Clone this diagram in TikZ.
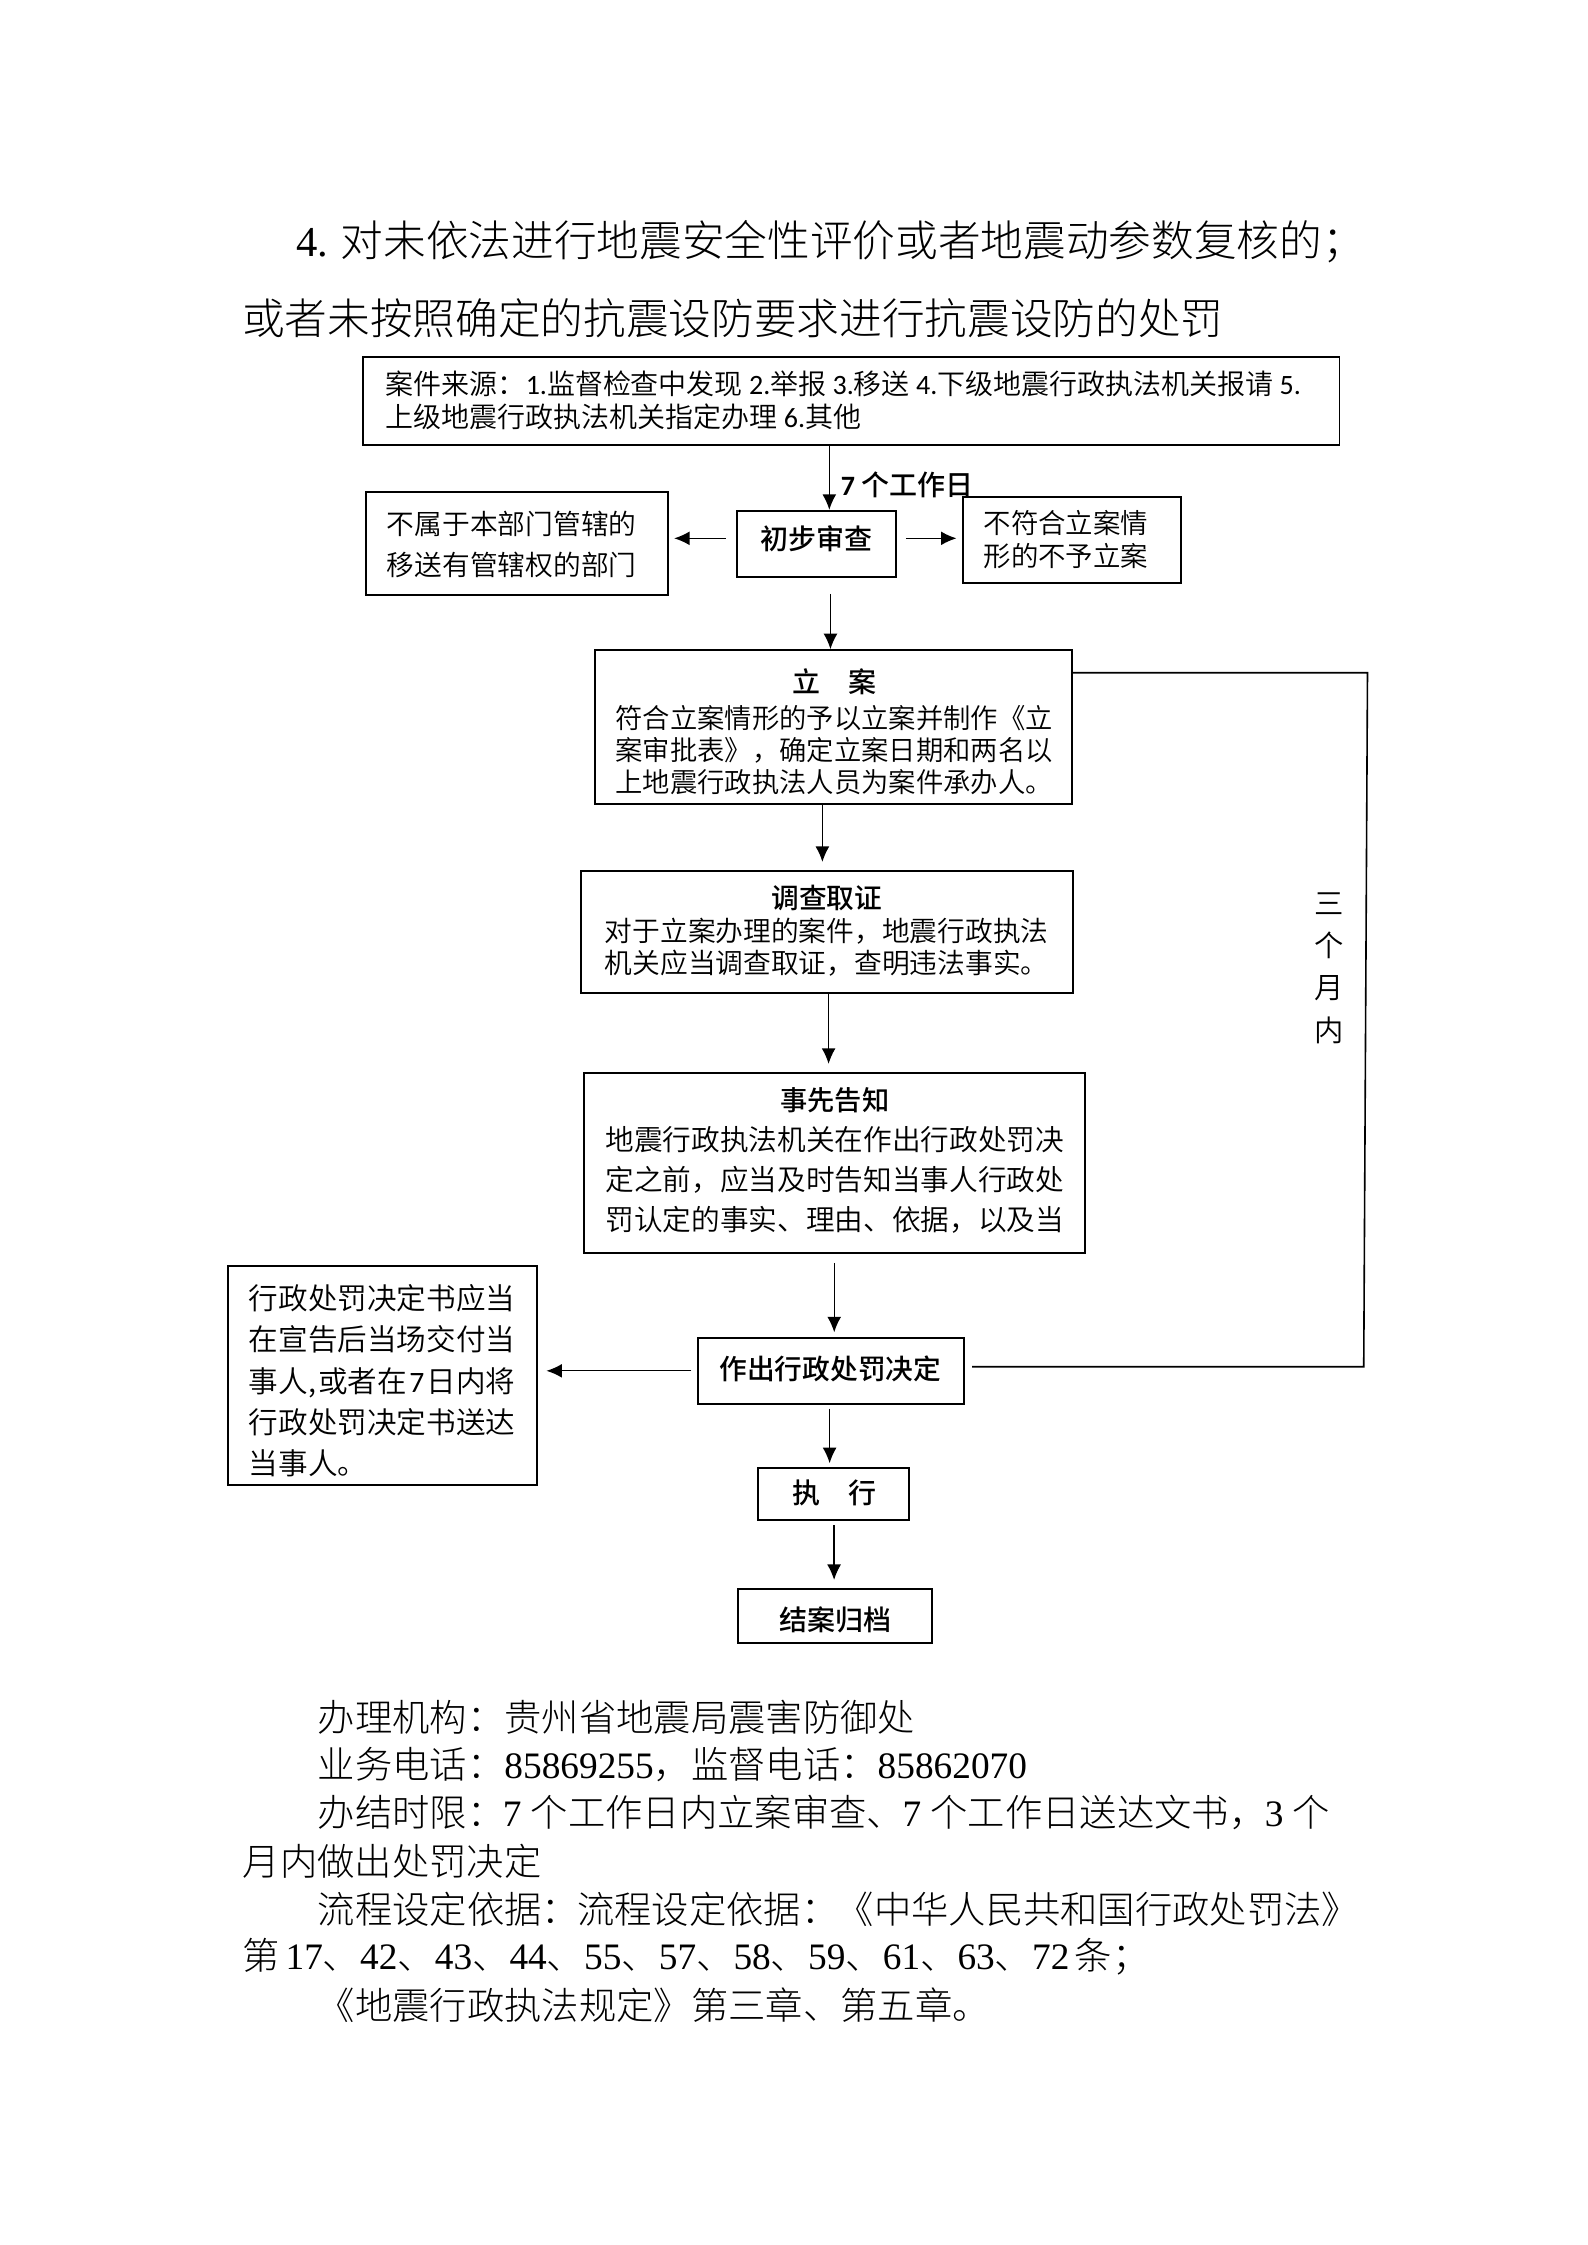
\documentclass[tikz,border=0pt]{standalone}
\usepackage{fontspec}
\setmainfont{Noto Sans CJK SC}
\newfontfamily\latinf{Carlito}
\newfontfamily\lsf{Liberation Serif}
\IfFontExistsTF{Noto Sans CJK SC Light}{\newfontfamily\thin{Noto Sans CJK SC Light}}{\newfontfamily\thin{Noto Sans CJK SC}}
\IfFontExistsTF{Noto Sans CJK SC DemiLight}{\newfontfamily\demi{Noto Sans CJK SC DemiLight}}{\newfontfamily\demi{Noto Sans CJK SC}}
\IfFontExistsTF{Noto Sans CJK SC Medium}{\newfontfamily\med{Noto Sans CJK SC Medium}}{\newcommand\med{\normalfont\bfseries}}
\usetikzlibrary{arrows.meta,calc}
\begin{document}
\begin{tikzpicture}[x=0.5411pt,y=-0.5411pt,
  box/.style={draw, line width=0.7pt, inner sep=0pt},
  txt/.style={inner sep=0pt, align=center, font=\demi\fontsize{10.5}{12}\selectfont},
  btxt/.style={inner sep=0pt, align=center, font=\med\fontsize{10.5}{12}\selectfont},
  arr/.style={line width=0.5pt, -{Latex[length=5.8pt,width=5.2pt]}},
  fb/.style={line width=0.6pt},
  ttl/.style={anchor=west, inner sep=0pt, font=\thin\fontsize{16}{16}\selectfont},
  body/.style={anchor=west, inner sep=0pt, font=\thin\fontsize{14}{14}\selectfont}]
\fill[white] (0,0) rectangle (1100,1556);
\useasboundingbox (0,0) rectangle (1100,1556);

% title
\node[ttl] (t1) at (205,167.5) {{\lsf 4.} 对未依法进行地震安全性评价或者地震动参数复核的；};
\node[ttl] (t2) at (167.5,220.5) {或者未按照确定的抗震设防要求进行抗震设防的处罚};

% boxes and their texts
\node[box, minimum width=366.1pt, minimum height=33.2pt] (src) at (590.1,277.85) {};
\node[txt, anchor=west, align=left, font=\demi\fontsize{10.5}{12.2}\selectfont] (srcT) at (267,277.55)
  {案件来源：{\latinf 1.}监督检查中发现 {\latinf 2.}举报 {\latinf 3.}移送 {\latinf 4.}下级地震行政执法机关报请 {\latinf 5.}\\上级地震行政执法机关指定办理 {\latinf 6.}其他};

\node[box, minimum width=59.6pt, minimum height=25pt] (init) at (565.65,377.1) {};
\node[btxt] (initT) at (565.7,373.1) {初步审查};

\node[box, minimum width=113.5pt, minimum height=38.7pt] (left1) at (358.4,376.6) {};
\node[txt, font=\demi\fontsize{10.4}{15.26}\selectfont] (left1T) at (354.65,377.5) {不属于本部门管辖的\\移送有管辖权的部门};

\node[box, minimum width=81.9pt, minimum height=32.2pt] (right1) at (742.95,374.1) {};
\node[txt, align=left, font=\demi\fontsize{10.3}{12.3}\selectfont] (right1T) at (738.8,374.05) {不符合立案情\\形的不予立案};

\node[btxt, anchor=west] (d7) at (582.5,336) {{\latinf\bfseries 7} 个工作日};

\node[box, minimum width=179.1pt, minimum height=57.6pt] (lian) at (577.7,503.8) {};
\node[txt, font=\demi\fontsize{10.25}{12}\selectfont] (lianT) at (578.2,507.15) {{\med\fontsize{10.5}{12}\selectfont 立　案}\\[1.5pt]符合立案情形的予以立案并制作《立\\案审批表》，确定立案日期和两名以\\上地震行政执法人员为案件承办人。};

\node[box, minimum width=184.6pt, minimum height=45.5pt] (diaocha) at (573.25,646) {};
\node[txt, font=\demi\fontsize{10.4}{12.2}\selectfont] (diaochaT) at (573,645.15) {{\med 调查取证}\\对于立案办理的案件，地震行政执法\\机关应当调查取证，查明违法事实。};

\node[box, minimum width=187.9pt, minimum height=67.5pt] (gaozhi) at (578.65,805.9) {};
\node[txt, font=\demi\fontsize{10.75}{15}\selectfont] (gaozhiT) at (578.65,804.05) {{\med\fontsize{10.2}{15}\selectfont 事先告知}\\地震行政执法机关在作出行政处罚决\\定之前，应当及时告知当事人行政处\\罚认定的事实、理由、依据，以及当};

\node[box, minimum width=99.9pt, minimum height=24.9pt] (jueding) at (576.05,950.2) {};
\node[btxt, font=\med\fontsize{10.4}{12}\selectfont] (juedingT) at (575.5,948.5) {作出行政处罚决定};

\node[box, minimum width=116.1pt, minimum height=82.2pt] (songda) at (265.1,953.3) {};
\node[txt, anchor=west, align=left, font=\demi\fontsize{11.1}{15.5}\selectfont] (songdaT) at (172.2,957.1) {行政处罚决定书应当\\在宣告后当场交付当\\\hbox to 99.9pt{事人,\hss 或者在\hss{\latinf 7}\hss 日内将}\\行政处罚决定书送达\\当事人。};

\node[box, minimum width=56.9pt, minimum height=19.6pt] (zhixing) at (577.65,1035.45) {};
\node[btxt] (zhixingT) at (578.4,1035) {执　行};

\node[box, minimum width=72.7pt, minimum height=20.1pt] (guidang) at (578.95,1120) {};
\node[btxt] (guidangT) at (579.2,1122.9) {结案归档};

\node[txt, font=\demi\fontsize{11}{15.85}\selectfont] (sgy) at (921.5,671) {三\\个\\月\\内};

% connectors
\coordinate (xa) at (574.8,0);
\draw[arr] (src.south -| xa) -- (init.north -| xa);
\coordinate (ya) at (0,373.1);
\draw[arr, shorten <=3.7pt, shorten >=1.8pt] (init.west |- ya) -- (left1.east |- ya);
\draw[arr, shorten <=3.5pt, shorten >=2pt] (init.east |- ya) -- (right1.west |- ya);
\coordinate (xe) at (575.6,0);
\draw[arr, shorten <=5.8pt] (init.south -| xe) -- (lian.north -| xe);
\coordinate (xb) at (570,0);
\draw[arr, shorten >=3.2pt] (lian.south -| xb) -- (diaocha.north -| xb);
\coordinate (xc) at (574.3,0);
\draw[arr, shorten >=3pt] (diaocha.south -| xc) -- (gaozhi.north -| xc);
\coordinate (xf) at (578.2,0);
\draw[arr, shorten <=3.4pt, shorten >=1.7pt] (gaozhi.south -| xf) -- (jueding.north -| xf);
\coordinate (yb) at (0,950.1);
\draw[arr, shorten <=2.1pt, shorten >=3.1pt] (jueding.west |- yb) -- (songda.east |- yb);
\coordinate (xd) at (575,0);
\draw[arr, shorten <=1.35pt, shorten >=1.4pt] (jueding.south -| xd) -- (zhixing.north -| xd);
\coordinate (xg) at (578.1,0);
\draw[arr, shorten <=1.5pt, shorten >=3.1pt] (zhixing.south -| xg) -- (guidang.north -| xg);
\coordinate (fb1) at (947.8,466.3);
\coordinate (fb2) at (945.2,947.3);
\draw[fb] (lian.east |- fb1) -- (fb1) -- (fb2) -- ($(jueding.east |- fb2)+(4.8,0)$);

% bottom text
\node[body] (b1) at (219.9,1189.9) {办理机构：贵州省地震局震害防御处};
\node[body] (b2) at (219.9,1223.2) {业务电话：{\lsf 85869255}，监督电话：{\lsf 85862070}};
\node[body] (b3) at (219.9,1256.5) {\hbox to 379.6pt{办结时限：\hss{\lsf 7}\hspace{4pt}\hss 个工作日内立案审查、\hss{\lsf 7}\hspace{4pt}\hss 个工作日送达文书，\hss{\lsf 3}\hspace{4pt}\hss 个}};
\node[body] (b4) at (168,1289.8) {月内做出处罚决定};
\node[body] (b5) at (219.9,1323.1) {\hbox to 390.6pt{流程设定依据：\hss 流程设定依据：\hss《中华人民共和国行政处罚法》}};
\node[body] (b6) at (168,1356.4) {\hbox to 340pt{第\hss{\lsf 17}、{\lsf 42}、{\lsf 43}、{\lsf 44}、{\lsf 55}、{\lsf 57}、{\lsf 58}、{\lsf 59}、{\lsf 61}、{\lsf 63}、{\lsf 72}\hss 条；}};
\node[body] (b7) at (219.9,1389.7) {《地震行政执法规定》第三章、第五章。};
\end{tikzpicture}
\end{document}
